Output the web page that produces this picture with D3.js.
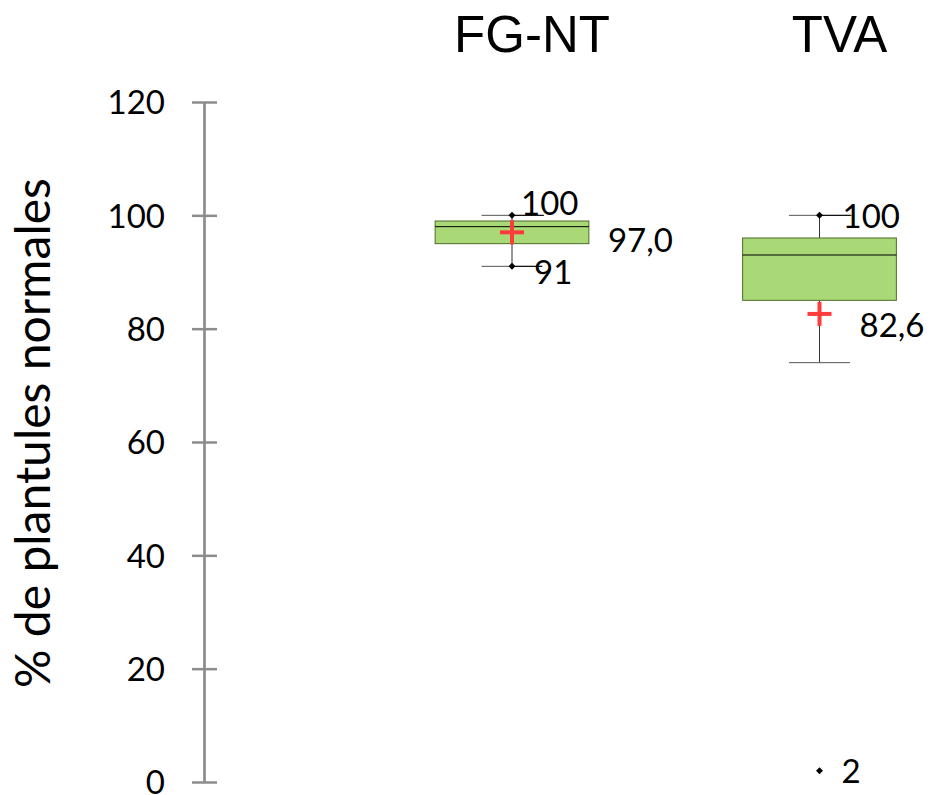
<!DOCTYPE html>
<html><head><meta charset="utf-8">
<script src="https://cdn.jsdelivr.net/npm/d3@7"></script>
<style>body{margin:0;background:#fff;}svg{display:block;}</style>
</head><body>
<script>
const categories = ["FG-NT", "TVA"];
const whiskerLow = [91, 74];
const q1 = [95, 85];
const median = [98, 93];
const q3 = [99, 96];
const whiskerHigh = [100, 100];
const means = [97.0, 82.6];
const meanLabels = ["97,0", "82,6"];
const outliers = [[], [2]];
const yTicks = [0, 20, 40, 60, 80, 100, 120];
const yTitle = "% de plantules normales";

const W = 935, H = 795;
const svg = d3.select("body").append("svg").attr("width", W).attr("height", H);
const y = d3.scaleLinear().domain([0, 120]).range([782, 102]);
const x = d3.scaleBand().domain(categories).range([358.25, 973.25]).padding(0);
const cx = c => x(c) + x.bandwidth() / 2;
const bw = x.bandwidth() * 0.5;
const capW = 61;
const labelFont = "Lato, 'Open Sans', sans-serif";

// axis
const axis = d3.axisLeft(y).tickValues(yTicks).tickSizeInner(0).tickSizeOuter(0).tickPadding(39);
const ag = svg.append("g").attr("transform", "translate(204,0)").call(axis);
ag.select(".domain").attr("stroke", "#8c8c8c").attr("stroke-width", 2.7);
ag.selectAll(".tick line").attr("x1", -12).attr("x2", 13).attr("stroke", "#8c8c8c").attr("stroke-width", 2.5);
ag.selectAll(".tick text").attr("font-family", labelFont).attr("font-size", 33).attr("fill", "#000").attr("dy", "0.36em");

// y title
svg.append("text").attr("transform", "translate(50,433) rotate(-90)")
  .attr("text-anchor", "middle").attr("font-family", labelFont).attr("font-size", 48)
  .attr("fill", "#000").text(yTitle);

// category titles
svg.selectAll(".cat").data(categories).enter().append("text")
  .attr("x", c => cx(c) + 20).attr("y", 52).attr("text-anchor", "middle")
  .attr("font-family", "'Liberation Sans', Arial, sans-serif").attr("font-size", 51)
  .attr("fill", "#000").text(c => c);

categories.forEach((c, i) => {
  const g = svg.append("g");
  const xc = cx(c);
  // whiskers
  g.append("line").attr("x1", xc).attr("x2", xc).attr("y1", y(whiskerHigh[i])).attr("y2", y(q3[i])).attr("stroke", "#333").attr("stroke-width", 1);
  g.append("line").attr("x1", xc).attr("x2", xc).attr("y1", y(q1[i])).attr("y2", y(whiskerLow[i])).attr("stroke", "#333").attr("stroke-width", 1);
  // caps
  [whiskerHigh[i], whiskerLow[i]].forEach(v => {
    g.append("line").attr("x1", xc - capW / 2).attr("x2", xc + capW / 2).attr("y1", y(v)).attr("y2", y(v))
      .attr("stroke", "#555").attr("stroke-width", 1);
  });
  // box
  g.append("rect").attr("x", xc - bw / 2).attr("width", bw).attr("y", y(q3[i])).attr("height", y(q1[i]) - y(q3[i]))
    .attr("fill", "#a9d977").attr("stroke", "#4f6b28").attr("stroke-width", 1);
  g.append("line").attr("x1", xc - bw / 2).attr("x2", xc + bw / 2).attr("y1", y(median[i])).attr("y2", y(median[i]))
    .attr("stroke", "#000").attr("stroke-width", 1);
  // mean cross
  const my = y(means[i]);
  g.append("line").attr("x1", xc - 12).attr("x2", xc + 12).attr("y1", my).attr("y2", my).attr("stroke", "#ff3b3b").attr("stroke-width", 4);
  g.append("line").attr("x1", xc).attr("x2", xc).attr("y1", my - 12).attr("y2", my + 12).attr("stroke", "#ff3b3b").attr("stroke-width", 4);
});

function diamond(g, xc, yy) {
  g.append("path").attr("d", `M${xc},${yy - 3.5}L${xc + 3.5},${yy}L${xc},${yy + 3.5}L${xc - 3.5},${yy}Z`).attr("fill", "#000");
}
function label(g, xx, yy, t) {
  g.append("text").attr("x", xx).attr("y", yy).attr("dy", "0.36em").attr("font-family", labelFont)
    .attr("font-size", 33).attr("fill", "#000").text(t);
}
const lg = svg.append("g");
// FG-NT labelled points
{
  const xc = cx("FG-NT");
  const yh = y(whiskerHigh[0]), yl = y(whiskerLow[0]);
  lg.append("line").attr("x1", xc).attr("x2", xc + 32).attr("y1", yh).attr("y2", yh).attr("stroke", "#000");
  diamond(lg, xc, yh); label(lg, xc + 9, yh - 12, String(whiskerHigh[0]));
  lg.append("line").attr("x1", xc).attr("x2", xc + 30).attr("y1", yl).attr("y2", yl).attr("stroke", "#000");
  diamond(lg, xc, yl); label(lg, xc + 22, yl + 6, String(whiskerLow[0]));
  label(lg, xc + bw / 2 + 19, y(means[0]) + 8, meanLabels[0]);
}
// TVA labelled points
{
  const xc = cx("TVA");
  const yh = y(whiskerHigh[1]);
  lg.append("line").attr("x1", xc).attr("x2", xc + 32).attr("y1", yh).attr("y2", yh).attr("stroke", "#000");
  diamond(lg, xc, yh); label(lg, xc + 23, yh + 1, String(whiskerHigh[1]));
  label(lg, xc + 40, y(means[1]) + 11, meanLabels[1]);
  outliers[1].forEach(v => { diamond(lg, xc, y(v)); label(lg, xc + 22, y(v), String(v)); });
}
</script>
</body></html>
